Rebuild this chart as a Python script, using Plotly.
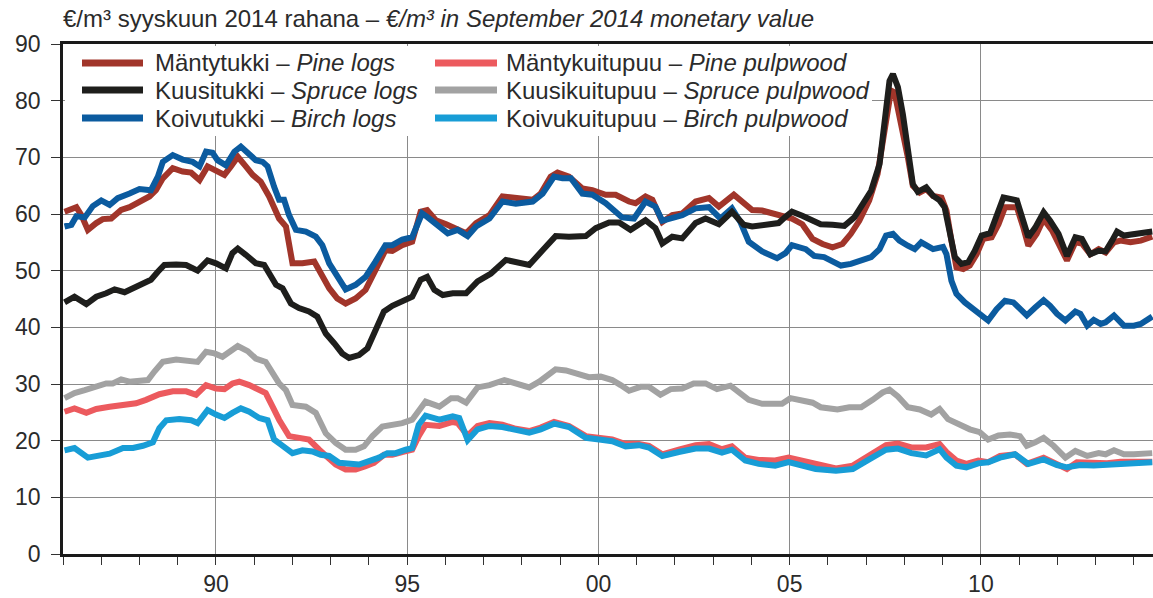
import plotly.graph_objects as go

# ---------------- data ----------------
pine_logs_x = [1986.04, 1986.35, 1986.48, 1986.65, 1986.87, 1987.04, 1987.26, 1987.52, 1987.74, 1988.00,
               1988.26, 1988.43, 1988.61, 1988.87, 1989.13, 1989.35, 1989.57, 1989.78, 1990.00, 1990.22,
               1990.39, 1990.57, 1990.78, 1990.96, 1991.17, 1991.39, 1991.65, 1991.83, 1992.00, 1992.26,
               1992.57, 1992.78, 1992.96, 1993.17, 1993.39, 1993.65, 1993.91, 1994.17, 1994.43, 1994.61,
               1994.87, 1995.13, 1995.35, 1995.52,
               1995.75, 1996.02, 1996.28, 1996.54, 1996.80, 1997.15, 1997.49, 1997.84, 1998.28, 1998.49,
               1998.75, 1998.93, 1999.23, 1999.58, 1999.84, 2000.19, 2000.45, 2000.80, 2000.97, 2001.23,
               2001.41, 2001.67, 2001.93, 2002.19, 2002.54, 2002.89, 2003.15, 2003.54, 2003.75, 2004.02,
               2004.28, 2004.54, 2004.80, 2005.06,
               2005.33, 2005.60, 2005.86, 2006.12, 2006.38, 2006.60, 2006.82, 2007.08, 2007.30, 2007.48,
               2007.65, 2007.74, 2007.87, 2008.09, 2008.22, 2008.40, 2008.57, 2008.75, 2008.97, 2009.10,
               2009.23, 2009.36, 2009.54, 2009.71, 2009.89, 2010.06, 2010.28, 2010.46, 2010.63, 2010.94,
               2011.11, 2011.24, 2011.46, 2011.64, 2011.86, 2012.03, 2012.25, 2012.47, 2012.64, 2012.86,
               2013.08, 2013.26, 2013.48, 2013.65, 2013.91, 2014.18, 2014.48]
pine_logs = [60.4, 61.2, 59.8, 57.2, 58.4, 59.1, 59.2, 60.7, 61.2, 62.2,
             63.1, 64.2, 66.3, 68.1, 67.5, 67.3, 66.0, 68.4, 67.5, 66.9,
             68.4, 70.1, 68.4, 66.9, 65.7, 63.1, 59.2, 57.8, 51.3, 51.3,
             51.6, 48.9, 46.9, 45.1, 44.2, 45.1, 46.6, 50.1, 53.6, 53.5,
             54.5, 55.1, 60.4, 60.7,
             58.9, 58.2, 57.5, 56.6, 58.4, 59.8, 63.1, 62.8, 62.5, 63.6,
             66.6, 67.3, 66.6, 64.5, 64.2, 63.4, 63.4, 62.2, 61.9, 63.1,
             62.5, 58.6, 59.8, 60.1, 62.2, 62.8, 61.3, 63.4, 62.2, 60.7,
             60.6, 60.1, 59.6, 59.2,
             58.2, 55.6, 54.7, 54.1, 54.7, 56.5, 58.8, 62.4, 67.1, 75.3,
             81.8, 81.5, 77.6, 70.0, 65.0, 63.8, 64.4, 63.2, 62.9, 60.6,
             55.3, 50.6, 50.3, 50.9, 52.9, 55.6, 55.9, 58.2, 61.2, 61.2,
             57.6, 54.4, 56.5, 59.1, 57.1, 54.7, 51.8, 55.0, 54.8, 52.9,
             53.8, 53.2, 55.0, 55.3, 55.0, 55.3, 56.0]

spruce_logs_x = [1986.04, 1986.30, 1986.61, 1986.87, 1987.13, 1987.35, 1987.61, 1987.83, 1988.09, 1988.30,
                 1988.48, 1988.65, 1988.96, 1989.22, 1989.52, 1989.78, 1990.00, 1990.26, 1990.43, 1990.57,
                 1990.78, 1991.04, 1991.26, 1991.39, 1991.57, 1991.74, 1991.96, 1992.17, 1992.43, 1992.65,
                 1992.87, 1993.09, 1993.30, 1993.48, 1993.74, 1993.96, 1994.17, 1994.39, 1994.61, 1994.87,
                 1995.13, 1995.35, 1995.52,
                 1995.71, 1995.93, 1996.19, 1996.54, 1996.84, 1997.19, 1997.58, 1997.93, 1998.19, 1998.54,
                 1998.88, 1999.23, 1999.67, 1999.93, 2000.28, 2000.54, 2000.84, 2001.23, 2001.49, 2001.67,
                 2001.93, 2002.19, 2002.54, 2002.80, 2003.15, 2003.49, 2003.80, 2004.02, 2004.36, 2004.71,
                 2004.89, 2005.06,
                 2005.33, 2005.60, 2005.81, 2006.12, 2006.43, 2006.69, 2006.91, 2007.13, 2007.35, 2007.48,
                 2007.61, 2007.70, 2007.83, 2007.96, 2008.09, 2008.22, 2008.35, 2008.57, 2008.75, 2008.92,
                 2009.05, 2009.19, 2009.32, 2009.49, 2009.67, 2009.84, 2010.02, 2010.24, 2010.41, 2010.59,
                 2010.94, 2011.07, 2011.24, 2011.42, 2011.64, 2011.81, 2012.03, 2012.25, 2012.47, 2012.64,
                 2012.86, 2013.08, 2013.26, 2013.43, 2013.56, 2013.74, 2014.00, 2014.22, 2014.48]
spruce_logs = [44.4, 45.4, 44.1, 45.4, 46.0, 46.7, 46.2, 46.9, 47.5, 48.4,
               49.8, 51.0, 51.1, 51.0, 50.0, 51.8, 51.3, 50.4, 53.1, 53.9,
               52.8, 51.3, 51.0, 49.5, 47.5, 46.9, 44.2, 43.4, 42.8, 41.9,
               38.9, 37.2, 35.4, 34.6, 35.1, 36.3, 39.5, 42.8, 43.8, 44.5,
               45.4, 48.4, 48.9,
               46.6, 45.7, 46.0, 46.0, 48.1, 49.5, 51.9, 51.3, 51.0, 53.6,
               56.1, 56.0, 56.1, 57.5, 58.5, 58.5, 57.2, 58.9, 57.5, 54.8,
               56.0, 55.7, 58.4, 59.2, 58.2, 60.4, 58.1, 57.8, 58.1, 58.4,
               59.5, 60.4,
               59.7, 58.8, 58.2, 58.1, 57.9, 59.4, 61.8, 64.1, 68.8, 75.3,
               83.5, 84.7, 82.4, 77.6, 70.6, 65.3, 63.9, 64.7, 63.2, 62.4,
               61.2, 56.5, 52.4, 51.2, 51.5, 53.5, 56.2, 56.6, 59.4, 62.9,
               62.4, 59.4, 55.9, 57.6, 60.3, 58.8, 56.5, 52.6, 55.9, 55.6,
               52.9, 53.5, 53.4, 55.3, 56.9, 56.2, 56.4, 56.5, 56.9]

birch_logs_x = [1986.04, 1986.22, 1986.35, 1986.57, 1986.78, 1987.00, 1987.22, 1987.43, 1987.74, 1988.00,
                1988.30, 1988.48, 1988.61, 1988.87, 1989.13, 1989.39, 1989.57, 1989.74, 1989.91, 1990.04,
                1990.26, 1990.48, 1990.65, 1990.87, 1991.04, 1991.22, 1991.35, 1991.52, 1991.65, 1991.78,
                1991.91, 1992.09, 1992.35, 1992.61, 1992.78, 1992.96, 1993.17, 1993.39, 1993.65, 1993.91,
                1994.17, 1994.43, 1994.61, 1994.87, 1995.13, 1995.39, 1995.52,
                1995.75, 1996.06, 1996.32, 1996.58, 1996.80, 1997.15, 1997.49, 1997.84, 1998.28, 1998.54,
                1998.84, 1999.06, 1999.28, 1999.58, 1999.84, 2000.19, 2000.62, 2000.93, 2001.23, 2001.49,
                2001.67, 2001.93, 2002.19, 2002.54, 2002.89, 2003.19, 2003.49, 2003.71, 2003.93, 2004.28,
                2004.67, 2004.89, 2005.06,
                2005.42, 2005.64, 2005.90, 2006.12, 2006.34, 2006.60, 2006.87, 2007.13, 2007.35, 2007.52,
                2007.70, 2007.87, 2008.09, 2008.27, 2008.44, 2008.62, 2008.75, 2009.01, 2009.10, 2009.23,
                2009.36, 2009.58, 2009.80, 2009.97, 2010.19, 2010.41, 2010.63, 2010.85, 2011.02, 2011.20,
                2011.42, 2011.64, 2011.81, 2011.99, 2012.21, 2012.47, 2012.60, 2012.78, 2012.95, 2013.13,
                2013.26, 2013.48, 2013.74, 2014.00, 2014.18, 2014.35, 2014.48]
birch_logs = [57.8, 58.1, 59.6, 59.4, 61.4, 62.4, 61.6, 62.8, 63.6, 64.4,
              64.2, 66.6, 69.2, 70.4, 69.6, 69.2, 68.4, 71.0, 70.8, 69.5,
              68.6, 71.0, 71.9, 70.4, 69.5, 69.2, 68.4, 64.8, 62.5, 62.5,
              59.8, 57.2, 56.9, 56.0, 54.5, 51.3, 48.9, 46.7, 47.5, 48.9,
              51.6, 54.5, 54.5, 55.5, 55.9, 60.1, 59.5,
              58.4, 56.6, 57.2, 56.1, 57.8, 59.2, 62.2, 61.8, 62.2, 63.6,
              66.6, 66.3, 66.3, 63.6, 63.4, 61.9, 59.4, 59.2, 62.2, 61.3,
              58.8, 59.4, 59.8, 61.0, 61.2, 59.2, 61.0, 58.6, 55.1, 53.4,
              52.2, 53.1, 54.5,
              53.8, 52.6, 52.4, 51.5, 50.9, 51.2, 51.8, 52.4, 53.8, 56.2,
              56.5, 55.3, 54.4, 53.8, 55.0, 54.4, 53.8, 54.2, 52.9, 48.2,
              45.9, 44.4, 43.2, 42.4, 41.2, 43.2, 44.7, 44.4, 43.2, 42.1,
              43.5, 44.8, 43.8, 42.4, 41.2, 42.8, 42.4, 40.3, 41.3, 40.6,
              40.9, 42.1, 40.3, 40.3, 40.6, 41.5, 41.9]

pine_pulp_x = [1986.04, 1986.30, 1986.61, 1986.87, 1987.22, 1987.57, 1987.91, 1988.17, 1988.52, 1988.87,
               1989.22, 1989.48, 1989.74, 1990.00, 1990.22, 1990.43, 1990.61, 1990.87, 1991.13, 1991.30,
               1991.48, 1991.65, 1991.91, 1992.17, 1992.43, 1992.70, 1992.87, 1993.13, 1993.39, 1993.65,
               1993.91, 1994.13, 1994.39, 1994.61, 1994.87, 1995.13, 1995.30, 1995.48,
               1995.84, 1996.19, 1996.32, 1996.58, 1996.84, 1997.15, 1997.49, 1997.84, 1998.19, 1998.49,
               1998.84, 1999.23, 1999.67, 2000.02, 2000.36, 2000.71, 2001.06, 2001.32, 2001.67, 2002.10,
               2002.54, 2002.89, 2003.23, 2003.49, 2003.84, 2004.19, 2004.62, 2004.97,
               2005.42, 2005.86, 2006.21, 2006.65, 2007.08, 2007.52, 2007.83, 2008.18, 2008.57, 2008.92,
               2009.10, 2009.36, 2009.62, 2009.93, 2010.19, 2010.50, 2010.89, 2011.20, 2011.64, 2011.99,
               2012.25, 2012.51, 2012.86, 2013.30, 2013.65, 2014.00, 2014.48]
pine_pulp = [25.1, 25.7, 24.9, 25.6, 26.0, 26.3, 26.6, 27.2, 28.2, 28.7,
             28.7, 28.1, 29.8, 29.2, 29.1, 30.1, 30.4, 29.8, 28.9, 28.4,
             26.0, 23.7, 20.8, 20.6, 20.2, 18.4, 17.3, 15.8, 14.9, 14.9,
             15.5, 16.1, 17.5, 17.5, 18.0, 18.4, 20.8, 22.8,
             22.6, 23.3, 23.1, 20.9, 22.6, 23.1, 22.8, 22.1, 21.7, 22.3,
             23.3, 22.6, 20.8, 20.5, 20.2, 19.4, 19.4, 19.1, 17.6, 18.4,
             19.2, 19.4, 18.5, 19.0, 17.0, 16.6, 16.5, 17.0,
             16.3, 15.6, 15.1, 15.6, 17.3, 19.2, 19.5, 18.8, 18.8, 19.4,
             18.0, 16.5, 15.9, 16.5, 16.2, 17.3, 17.6, 15.9, 17.0, 15.9,
             15.0, 16.2, 16.2, 16.0, 16.3, 16.2, 16.3]

spruce_pulp_x = [1986.04, 1986.30, 1986.57, 1986.87, 1987.13, 1987.30, 1987.52, 1987.74, 1988.00, 1988.22,
                 1988.39, 1988.61, 1988.96, 1989.22, 1989.52, 1989.74, 1989.96, 1990.17, 1990.39, 1990.57,
                 1990.83, 1991.04, 1991.30, 1991.48, 1991.65, 1991.83, 1992.00, 1992.35, 1992.61, 1992.87,
                 1993.13, 1993.39, 1993.65, 1993.87, 1994.09, 1994.35, 1994.61, 1994.87, 1995.13, 1995.30,
                 1995.48,
                 1995.84, 1996.15, 1996.32, 1996.54, 1996.84, 1997.15, 1997.54, 1997.84, 1998.19, 1998.45,
                 1998.88, 1999.15, 1999.45, 1999.75, 2000.06, 2000.36, 2000.58, 2000.80, 2001.10, 2001.32,
                 2001.62, 2001.89, 2002.19, 2002.49, 2002.80, 2003.10, 2003.45, 2003.67, 2003.93, 2004.28,
                 2004.54, 2004.80, 2005.02,
                 2005.33, 2005.60, 2005.81, 2006.25, 2006.56, 2006.87, 2007.17, 2007.43, 2007.61, 2007.83,
                 2008.09, 2008.40, 2008.70, 2008.92, 2009.14, 2009.40, 2009.71, 2009.97, 2010.19, 2010.46,
                 2010.76, 2011.02, 2011.20, 2011.42, 2011.64, 2011.90, 2012.21, 2012.47, 2012.78, 2013.08,
                 2013.26, 2013.48, 2013.74, 2014.00, 2014.26, 2014.48]
spruce_pulp = [27.5, 28.4, 28.9, 29.6, 30.1, 30.1, 30.8, 30.4, 30.6, 30.7,
               32.2, 33.9, 34.3, 34.2, 33.9, 35.7, 35.4, 34.8, 36.0, 36.7,
               35.8, 34.5, 33.9, 31.9, 30.1, 28.9, 26.3, 26.0, 24.9, 21.3,
               19.6, 18.4, 18.4, 19.0, 20.8, 22.5, 22.8, 23.1, 23.7, 25.4,
               26.9,
               26.0, 27.5, 27.5, 26.7, 29.4, 29.8, 30.7, 30.1, 29.4, 30.4,
               32.6, 32.4, 31.9, 31.2, 31.3, 30.7, 29.8, 28.8, 29.5, 29.5,
               28.1, 29.1, 29.2, 30.1, 30.1, 29.1, 29.7, 28.4, 27.2, 26.5,
               26.5, 26.5, 27.5,
               27.2, 26.7, 25.9, 25.5, 25.9, 25.9, 27.2, 28.5, 29.0, 27.8,
               25.9, 25.5, 24.6, 25.6, 23.8, 23.0, 22.0, 21.5, 20.2, 20.9,
               21.1, 20.8, 19.1, 19.7, 20.5, 19.1, 17.0, 18.2, 17.3, 17.8,
               17.6, 18.3, 17.6, 17.6, 17.6, 17.8]

birch_pulp_x = [1986.04, 1986.30, 1986.65, 1986.96, 1987.22, 1987.57, 1987.83, 1988.09, 1988.35, 1988.52,
                1988.70, 1989.04, 1989.35, 1989.52, 1989.78, 1990.00, 1990.22, 1990.43, 1990.65, 1990.87,
                1991.13, 1991.35, 1991.52, 1991.70, 1992.00, 1992.26, 1992.52, 1992.74, 1992.96, 1993.22,
                1993.48, 1993.74, 1994.00, 1994.26, 1994.48, 1994.70, 1994.96, 1995.13, 1995.30, 1995.48,
                1995.84, 1996.19, 1996.36, 1996.58, 1996.84, 1997.15, 1997.49, 1997.84, 1998.19, 1998.49,
                1998.84, 1999.23, 1999.67, 2000.02, 2000.36, 2000.71, 2001.06, 2001.32, 2001.67, 2002.10,
                2002.54, 2002.89, 2003.23, 2003.49, 2003.84, 2004.19, 2004.62, 2004.97,
                2005.33, 2005.68, 2006.21, 2006.65, 2007.08, 2007.52, 2007.83, 2008.18, 2008.57, 2008.92,
                2009.10, 2009.36, 2009.62, 2009.93, 2010.19, 2010.50, 2010.89, 2011.24, 2011.64, 2011.99,
                2012.25, 2012.60, 2012.95, 2013.30, 2013.65, 2014.00, 2014.48]
birch_pulp = [18.3, 18.7, 17.0, 17.5, 17.7, 18.7, 18.7, 19.1, 19.7, 22.2,
              23.6, 23.8, 23.6, 23.1, 25.4, 24.6, 24.0, 24.9, 25.7, 25.1,
              24.0, 23.6, 20.2, 19.3, 17.8, 18.3, 18.1, 17.5, 17.3, 16.1,
              16.0, 15.8, 16.4, 17.0, 17.8, 17.8, 18.4, 18.7, 22.8, 24.4,
              23.7, 24.3, 24.0, 20.1, 22.0, 22.6, 22.4, 21.9, 21.4, 22.0,
              23.0, 22.4, 20.5, 20.2, 19.9, 19.0, 19.2, 18.8, 17.3, 18.0,
              18.6, 18.6, 17.9, 18.4, 16.5, 15.9, 15.6, 16.2,
              15.7, 15.0, 14.7, 15.0, 16.7, 18.4, 18.6, 17.8, 17.4, 18.5,
              17.0, 15.6, 15.3, 16.0, 16.2, 17.0, 17.6, 15.9, 16.7, 15.7,
              15.3, 15.7, 15.6, 15.7, 15.7, 15.9, 16.2]

x_tick_vals = [1990, 1995, 2000, 2005, 2010]
x_tick_text = ["90", "95", "00", "05", "10"]

names_fi = ["Mäntytukki", "Kuusitukki", "Koivutukki", "Mäntykuitupuu", "Kuusikuitupuu", "Koivukuitupuu"]
names_en = ["Pine logs", "Spruce logs", "Birch logs", "Pine pulpwood", "Spruce pulpwood", "Birch pulpwood"]

# ---------------- styling ----------------
C_PINE_LOG = "#a1352a"
C_SPRUCE_LOG = "#1e1e1c"
C_BIRCH_LOG = "#0b5b9f"
C_PINE_PULP = "#ec5a5e"
C_SPRUCE_PULP = "#a2a2a2"
C_BIRCH_PULP = "#189dd6"
colors = [C_PINE_LOG, C_SPRUCE_LOG, C_BIRCH_LOG, C_PINE_PULP, C_SPRUCE_PULP, C_BIRCH_PULP]

FONT = "Liberation Sans, Arial, Helvetica, sans-serif"
TXT = "#2b2b2b"
LW = 6

fig = go.Figure()
series = [
    (pine_pulp_x, pine_pulp, 3),
    (spruce_pulp_x, spruce_pulp, 4),
    (birch_pulp_x, birch_pulp, 5),
    (pine_logs_x, pine_logs, 0),
    (birch_logs_x, birch_logs, 2),
    (spruce_logs_x, spruce_logs, 1),
]
for xs, ys, i in series:
    fig.add_trace(go.Scatter(
        x=xs, y=ys, mode="lines",
        name=f"{names_fi[i]} – {names_en[i]}",
        line=dict(color=colors[i], width=LW),
        hoverinfo="skip",
    ))

# plot area in pixels: x 63..1153, y 44..554
W, H = 1153, 598
ML, MR, MT, MB = 63, 0, 44, 44
PW, PH = W - ML - MR, H - MT - MB


def px_x(p):
    return (p - ML) / PW


def px_y(p):
    return (H - MB - p) / PH


shapes = []
annotations = []
# legend background box (white, hides gridlines)
shapes.append(dict(type="rect", xref="paper", yref="paper",
                   x0=px_x(65), x1=px_x(872), y0=px_y(136), y1=px_y(46),
                   fillcolor="white", line=dict(width=0), layer="above"))
col_line = [(82, 143), (435, 497)]
col_text = [153, 504]
row_y = [63, 90, 118]
for k in range(6):
    col = 0 if k < 3 else 1
    row = k % 3
    yy = px_y(row_y[row])
    shapes.append(dict(type="line", xref="paper", yref="paper",
                       x0=px_x(col_line[col][0]), x1=px_x(col_line[col][1]), y0=yy, y1=yy,
                       line=dict(color=colors[k], width=7), layer="above"))
    annotations.append(dict(xref="paper", yref="paper", x=px_x(col_text[col]), y=yy,
                            xanchor="left", yanchor="middle", showarrow=False,
                            text=f"{names_fi[k]} – <i>{names_en[k]}</i>",
                            font=dict(family=FONT, size=24, color=TXT)))

# title
annotations.append(dict(xref="paper", yref="paper", x=px_x(61), y=px_y(19),
                        xanchor="left", yanchor="middle", showarrow=False,
                        text="€/m³ syyskuun 2014 rahana – <i>€/m³ in September 2014 monetary value</i>",
                        font=dict(family=FONT, size=24, color=TXT)))

fig.update_layout(
    width=W, height=H,
    margin=dict(l=ML, r=MR, t=MT, b=MB, pad=0, autoexpand=False),
    paper_bgcolor="white", plot_bgcolor="white",
    showlegend=False,
    shapes=shapes, annotations=annotations,
    font=dict(family=FONT, size=23, color=TXT),
)
fig.update_xaxes(
    range=[1986, 2014.5], automargin=False,
    tickmode="array", tickvals=x_tick_vals, ticktext=x_tick_text,
    ticks="outside", ticklen=8, tickwidth=1, tickcolor="#333",
    showgrid=True, gridcolor="#8a8a8a", gridwidth=1,
    showline=True, linecolor="#1a1a1a", linewidth=2.5, mirror=True,
    zeroline=False,
    minor=dict(tickmode="linear", tick0=1986, dtick=1, ticks="outside", ticklen=8,
               tickcolor="#333", showgrid=False),
    ticklabelstandoff=0,
    tickfont=dict(family=FONT, size=23, color=TXT),
)
fig.update_yaxes(
    range=[0, 90], dtick=10, tick0=0, automargin=False,
    ticks="outside", ticklen=9, tickwidth=1, tickcolor="#333",
    showgrid=True, gridcolor="#8a8a8a", gridwidth=1,
    showline=True, linecolor="#1a1a1a", linewidth=2.5,
    zeroline=False,
    ticklabelstandoff=6,
    tickfont=dict(family=FONT, size=23, color=TXT),
)

fig.write_html("out.html", config={"displayModeBar": False},
               post_script="document.body.style.margin='0';")
